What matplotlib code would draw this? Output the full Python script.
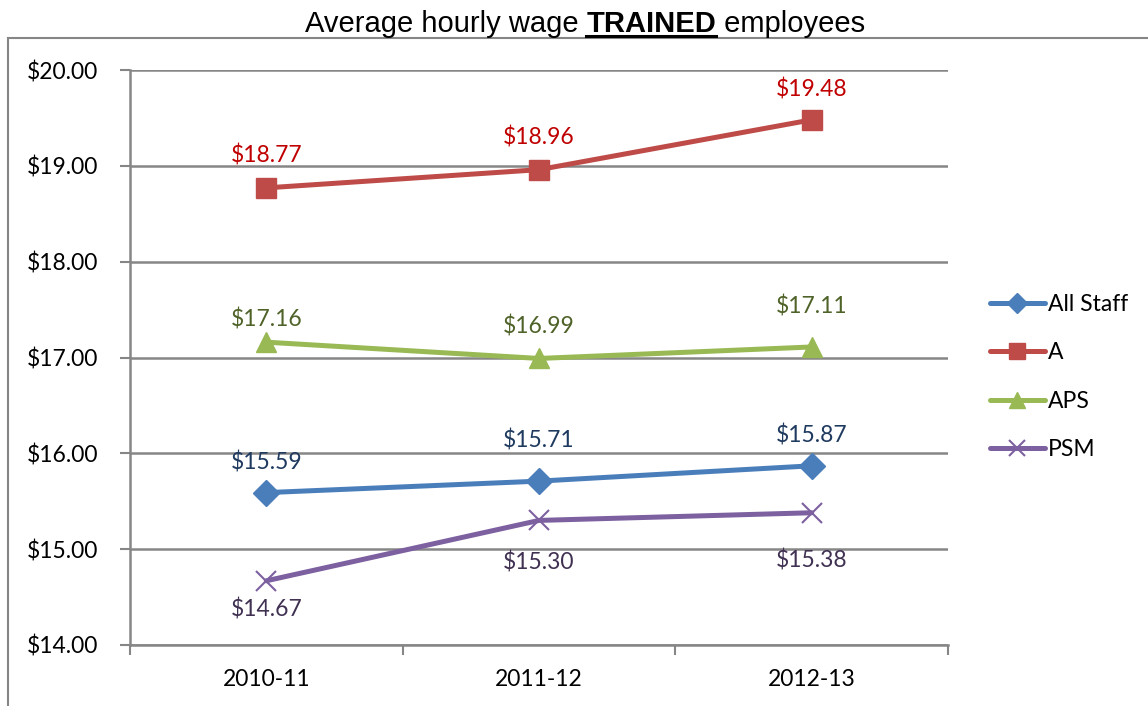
import matplotlib
matplotlib.use("Agg")
import matplotlib.pyplot as plt
from matplotlib.patches import Rectangle
from matplotlib.lines import Line2D

categories = ["2010-11", "2011-12", "2012-13"]
all_staff = [15.59, 15.71, 15.87]
a_vals = [18.77, 18.96, 19.48]
aps_vals = [17.16, 16.99, 17.11]
psm_vals = [14.67, 15.30, 15.38]
yticks = [14, 15, 16, 17, 18, 19, 20]

# data-label offsets in pixels (positive = up), layout only
label_offsets = {
    "All Staff": [30, 41, 30],
    "A": [32, 32, 30],
    "APS": [23, 32, 40],
    "PSM": [-29, -42, -48],
}

W, H = 1148, 706
fig = plt.figure(figsize=(W / 100, H / 100), dpi=100)
fig.patch.set_facecolor("white")

# outer frame
fig.add_artist(Rectangle((8 / W, -0.05), 1.2, 1 - 38 / H + 0.05, transform=fig.transFigure,
                         fill=False, edgecolor="#868686", linewidth=1.5))

ax = fig.add_axes([130 / W, 1 - 645 / H, (948 - 130) / W, (645 - 70) / H])
ax.set_xlim(-0.5, 2.5)
ax.set_ylim(14, 20)

FONT = ["Lato", "DejaVu Sans"]
FS = 16.5
series = [
    ("All Staff", all_staff, "#4A7EBB", "D", 13, "#1F3A5F"),
    ("A", a_vals, "#BE4B48", "s", 14, "#C00000"),
    ("APS", aps_vals, "#98B954", "^", 15, "#4F6228"),
    ("PSM", psm_vals, "#7D60A0", "x", 14, "#403152"),
]
x = list(range(len(categories)))
handles = []
for name, vals, col, mk, ms, lcol in series:
    kw = dict(markeredgewidth=1.5) if mk == "x" else dict(markeredgecolor=col)
    (ln,) = ax.plot(x, vals, color=col, linewidth=3.6, marker=mk, markersize=ms,
                    markerfacecolor=col, solid_capstyle="round", zorder=3, clip_on=False, **kw)
    handles.append(ln)
    for xi, v, off in zip(x, vals, label_offsets[name]):
        ax.annotate(f"${v:.2f}", (xi, v), xytext=(0, off * 0.72), textcoords="offset points",
                    ha="center", va="center", fontsize=FS, color=lcol, family=FONT)

ax.set_yticks(yticks)
ax.set_yticklabels([f"${t:.2f}" for t in yticks], fontsize=FS, family=FONT)
ax.set_xticks(x)
ax.set_xticklabels(categories, fontsize=FS, family=FONT)
ax.set_xticks([-0.5, 0.5, 1.5, 2.5], minor=True)
ax.tick_params(axis="x", which="major", length=0, pad=17)
ax.tick_params(axis="x", which="minor", length=7, width=1.5, color="#868686", direction="out")
ax.tick_params(axis="y", length=7, width=1.5, color="#868686", direction="out", pad=16)
ax.grid(axis="y", color="#868686", linewidth=1.8, zorder=0)
for s in ["top", "right"]:
    ax.spines[s].set_visible(False)
for s in ["left", "bottom"]:
    ax.spines[s].set_color("#868686")
    ax.spines[s].set_linewidth(1.8)

leg = fig.legend(handles, [s[0] for s in series], loc="center left",
                 bbox_to_anchor=(969 / W, 1 - 377 / H), frameon=False,
                 prop={"family": FONT, "size": FS}, handlelength=2.4, handletextpad=0.15,
                 labelspacing=1.2, markerscale=0.8)

# title with bold underlined word
fig.canvas.draw()
r = fig.canvas.get_renderer()
TF = ["Liberation Sans", "DejaVu Sans"]
parts = [("Average hourly wage ", "normal"), ("TRAINED", "bold"), (" employees", "normal")]
texts = []
for t, w in parts:
    texts.append(fig.text(0, 0, t, fontsize=21, family=TF, weight=w))
widths = [tt.get_window_extent(r).width for tt in texts]
total = sum(widths)
xs = 585 - total / 2
ybase = 1 - 32 / H
for tt, wdt in zip(texts, widths):
    tt.set_position((xs / W, ybase))
    tt.set_va("baseline")
    xs += wdt
x0 = (585 - total / 2 + widths[0]) / W
fig.add_artist(Line2D([x0, x0 + widths[1] / W], [1 - 36 / H] * 2, transform=fig.transFigure,
                      color="black", linewidth=2.2))

fig.savefig("out.png", dpi=100)
